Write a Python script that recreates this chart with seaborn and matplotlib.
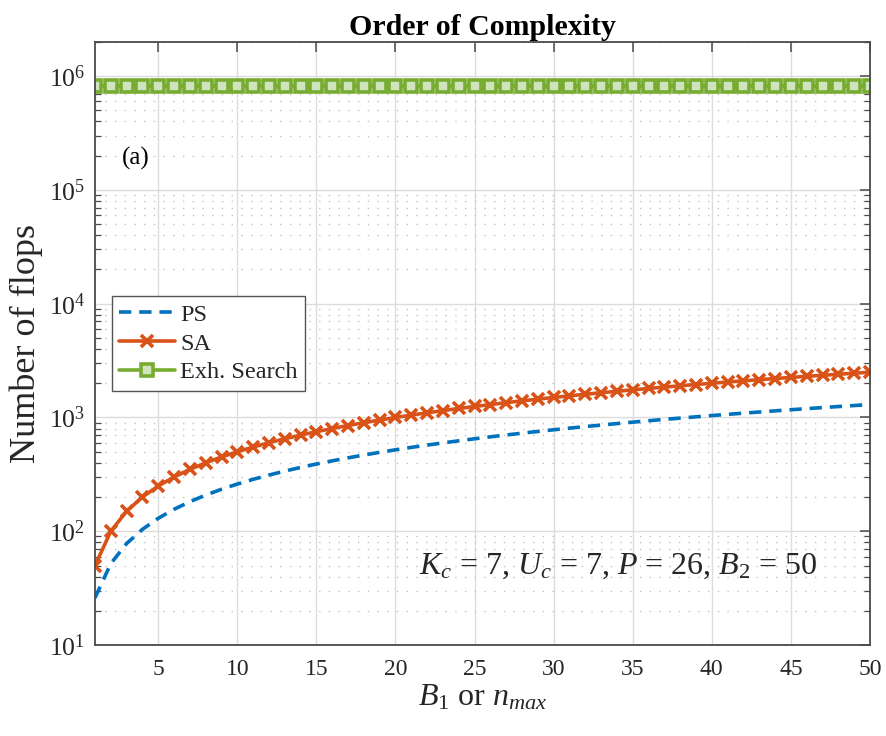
import matplotlib
matplotlib.use("Agg")
import matplotlib.pyplot as plt
import seaborn as sns
import pandas as pd
from matplotlib.ticker import LogLocator, NullFormatter, FixedLocator

# Number of flops versus B1 (or n_max)
b1 = list(range(1, 51))
ps_flops = [26, 52, 78, 104, 130, 156, 182, 208, 234, 260,
            286, 312, 338, 364, 390, 416, 442, 468, 494, 520,
            546, 572, 598, 624, 650, 676, 702, 728, 754, 780,
            806, 832, 858, 884, 910, 936, 962, 988, 1014, 1040,
            1066, 1092, 1118, 1144, 1170, 1196, 1222, 1248, 1274, 1300]
sa_flops = [50, 100, 150, 200, 250, 300, 350, 400, 450, 500,
            550, 600, 650, 700, 750, 800, 850, 900, 950, 1000,
            1050, 1100, 1150, 1200, 1250, 1300, 1350, 1400, 1450, 1500,
            1550, 1600, 1650, 1700, 1750, 1800, 1850, 1900, 1950, 2000,
            2050, 2100, 2150, 2200, 2250, 2300, 2350, 2400, 2450, 2500]
exh_flops = [823543] * 50
series_names = ["PS", "SA", "Exh. Search"]
x_ticks = [5, 10, 15, 20, 25, 30, 35, 40, 45, 50]

df = pd.DataFrame({
    "B1": b1 * 3,
    "flops": ps_flops + sa_flops + exh_flops,
    "method": [series_names[0]] * 50 + [series_names[1]] * 50 + [series_names[2]] * 50,
})

sns.set_theme(style="white")
plt.rcParams["font.family"] = ["Liberation Serif", "DejaVu Serif"]
plt.rcParams["mathtext.fontset"] = "custom"
plt.rcParams["mathtext.rm"] = "Liberation Serif"
plt.rcParams["mathtext.it"] = "Liberation Serif:italic"
plt.rcParams["mathtext.bf"] = "Liberation Serif:bold"

axis_col = "#4a4a4a"
text_col = "#262626"

fig = plt.figure(figsize=(8.87, 7.36), dpi=100)
ax = fig.add_axes([0.1071, 0.1236, 0.8737, 0.8194])

colors = {"PS": "#0072BD", "SA": "#D95319", "Exh. Search": "#77AC30"}

sns.lineplot(data=df[df.method == "PS"], x="B1", y="flops", ax=ax,
             color=colors["PS"], linewidth=2.6, linestyle=(0, (3.4, 2.2)),
             label="PS")
sns.lineplot(data=df[df.method == "SA"], x="B1", y="flops", ax=ax,
             color=colors["SA"], linewidth=2.6, marker="x", markersize=9,
             markeredgewidth=2.6, markeredgecolor=colors["SA"], label="SA")
sns.lineplot(data=df[df.method == "Exh. Search"], x="B1", y="flops", ax=ax,
             color=colors["Exh. Search"], linewidth=2.6, marker="s",
             markersize=8, markeredgewidth=2.6,
             markeredgecolor=colors["Exh. Search"], markerfacecolor="#cfe3bd",
             label="Exh. Search")

ax.set_yscale("log")
ax.set_xlim(1, 50)
ax.set_ylim(10, 2e6)

ax.xaxis.set_major_locator(FixedLocator(x_ticks))
ax.yaxis.set_major_locator(LogLocator(base=10, numticks=10))
ax.yaxis.set_minor_locator(LogLocator(base=10, subs=range(2, 10), numticks=20))
ax.yaxis.set_minor_formatter(NullFormatter())

ax.grid(True, which="major", axis="both", color="#dcdcdc", linewidth=1.0)
ax.grid(True, which="minor", axis="y", color="#c4c4c4", linewidth=1.0,
        linestyle=(0, (1, 6)))
ax.set_axisbelow(True)

for sp in ax.spines.values():
    sp.set_color(axis_col)
    sp.set_linewidth(1.3)

ax.tick_params(which="major", direction="in", length=7, width=1.1,
               color=axis_col, top=True, right=True, labelcolor=text_col)
ax.tick_params(axis="x", which="major", labelsize=17, pad=10)
ax.tick_params(axis="y", which="major", labelsize=18.5, pad=7)
ax.tick_params(which="minor", direction="in", length=4, width=0.9,
               color=axis_col, top=False, right=True, left=True)
ax.tick_params(axis="x", which="minor", bottom=False, top=False)

ax.set_title("Order of Complexity", fontsize=21.5, fontweight="bold",
             color="black", pad=5)
ax.set_ylabel("Number of flops", fontsize=26, color=text_col, labelpad=4)
ax.set_xlabel(r"$B_1$ or $n_{max}$", fontsize=23, color=text_col, labelpad=2)

ax.text(2.7, 1.9e5, "(a)", fontsize=18, color="black", va="center")
ax.text(21.5, 42, r"$K_c$ = 7, $U_c$ = 7, $P$ = 26, $B_2$ = 50",
        fontsize=23, color=text_col, va="baseline")

leg = ax.legend(loc="upper left", bbox_to_anchor=(0.022, 0.578),
                fontsize=17.5, frameon=True, fancybox=False,
                edgecolor="#555555", framealpha=1, borderpad=0.3,
                labelspacing=0.28, handlelength=2.3, handletextpad=0.2,
                borderaxespad=0)
leg.get_frame().set_linewidth(1.0)
for t in leg.get_texts():
    t.set_color(text_col)

fig.savefig("out.png", dpi=100)
